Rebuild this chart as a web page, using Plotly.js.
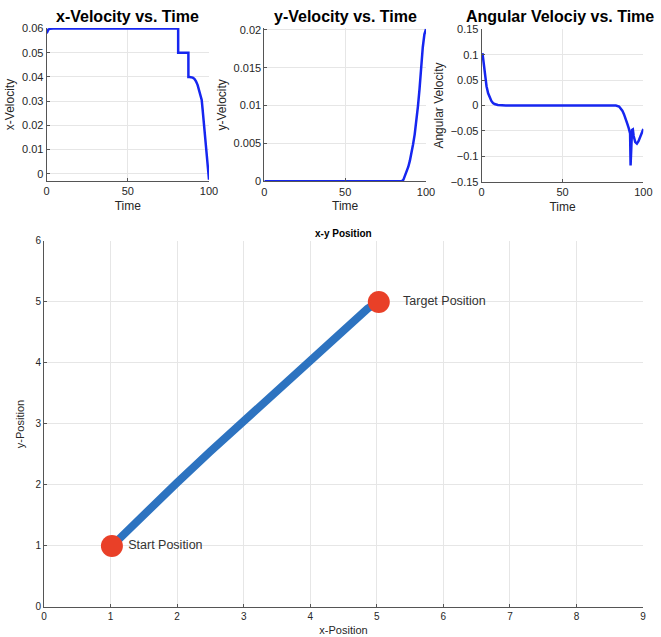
<!DOCTYPE html>
<html><head><meta charset="utf-8">
<script src="https://cdn.plot.ly/plotly-3.0.1.min.js"></script>
<style>html,body{margin:0;padding:0;background:#fff}#c{width:661px;height:637px}</style>
</head><body><div id="c"></div>
<script>
// x-velocity vs time
const tVx = [0, 1, 2, 4, 81, 81.01, 87.3, 87.31, 88, 89, 90, 91, 92, 93, 94, 95, 95.5, 96, 97, 98, 99, 100];
const vx  = [0.058, 0.0595, 0.0599, 0.06, 0.06, 0.05, 0.05, 0.04, 0.04, 0.0399, 0.0397, 0.0392, 0.0382, 0.0366, 0.0345, 0.0322, 0.0305, 0.027, 0.0195, 0.012, 0.0045, -0.0025];
// y-velocity vs time
const tVy = [0, 50, 84, 85, 86, 87, 88, 89, 90, 91, 92, 93, 94, 95, 96, 97, 98, 99, 100];
const vy  = [0, 0, 0, 0.00003, 0.0002, 0.0007, 0.0012, 0.0019, 0.0027, 0.0037, 0.0049, 0.0062, 0.0079, 0.0099, 0.0122, 0.0152, 0.0177, 0.0194, 0.0201];
// angular velocity vs time
const tW = [0.5, 1, 2, 3, 4, 5, 6, 7, 8, 10, 12, 15, 50, 83, 85, 86, 87, 88, 89, 90, 91, 91.8, 92.1, 92.4, 93, 93.5, 94, 95, 96, 97, 98, 99, 100];
const w  = [0.103, 0.09, 0.06, 0.038, 0.024, 0.015, 0.009, 0.005, 0.003, 0.001, 0.0003, 0, 0, 0, -0.002, -0.005, -0.01, -0.017, -0.025, -0.035, -0.045, -0.055, -0.118, -0.1, -0.048, -0.047, -0.06, -0.072, -0.075, -0.07, -0.062, -0.054, -0.046];
// x-y path
const pathX = [1.02, 1.5, 2, 2.5, 3, 3.5, 4, 4.4, 4.55, 4.65, 4.73, 4.8, 4.86, 4.92, 4.97, 5.03];
const pathY = [1.0, 1.53, 2.04, 2.55, 3.05, 3.56, 4.06, 4.46, 4.61, 4.71, 4.78, 4.84, 4.89, 4.93, 4.96, 5.0];
const markX = [1.02, 5.03];
const markY = [1.0, 5.0];
const labelX = [1.265, 5.395];
const labelY = [1.0, 5.0];
const labelText = ['Start Position', 'Target Position'];

const FONT = 'Liberation Sans, Arial, Helvetica, sans-serif';
const BLUE = 'rgb(22,38,240)';
const axBase = {
  showgrid: true, gridcolor: '#e6e6e6', gridwidth: 1,
  zeroline: false, showline: true, linecolor: '#555', linewidth: 1,
  ticks: 'inside', ticklen: 3, tickcolor: '#555',
  tickfont: {family: FONT, size: 11, color: '#262626'},
  mirror: false
};
function ax(o) { return Object.assign({}, axBase, o); }

const traces = [
  {x: tVx, y: vx, type: 'scatter', mode: 'lines', line: {color: BLUE, width: 2.5}, xaxis: 'x', yaxis: 'y'},
  {x: tVy, y: vy, type: 'scatter', mode: 'lines', line: {color: BLUE, width: 2.5}, xaxis: 'x2', yaxis: 'y2'},
  {x: tW, y: w, type: 'scatter', mode: 'lines', line: {color: BLUE, width: 2.5}, xaxis: 'x3', yaxis: 'y3'},
  {x: pathX, y: pathY, type: 'scatter', mode: 'lines', line: {color: 'rgb(45,115,192)', width: 8}, xaxis: 'x4', yaxis: 'y4'},
  {x: markX, y: markY, type: 'scatter', mode: 'markers',
   marker: {color: 'rgb(233,64,40)', size: 22}, cliponaxis: false, xaxis: 'x4', yaxis: 'y4'},
  {x: labelX, y: labelY, type: 'scatter', mode: 'text', text: labelText, textposition: 'middle right',
   textfont: {family: FONT, size: 12.5, color: '#333'}, cliponaxis: false, xaxis: 'x4', yaxis: 'y4'}
];

const titleFont = {family: FONT, size: 12, color: '#262626'};
const layout = {
  width: 661, height: 637, showlegend: false,
  paper_bgcolor: '#fff', plot_bgcolor: '#fff',
  margin: {l: 0, r: 0, t: 0, b: 0},
  xaxis: ax({domain: [0.0706, 0.3162], anchor: 'y', range: [0, 100], tickvals: [0, 50, 100],
    title: {text: 'Time', font: titleFont, standoff: 5}}),
  yaxis: ax({domain: [0.7159, 0.956], anchor: 'x', range: [-0.003, 0.0602],
    tickvals: [0, 0.01, 0.02, 0.03, 0.04, 0.05, 0.06],
    title: {text: 'x-Velocity', font: titleFont, standoff: 4}}),
  xaxis2: ax({domain: [0.3999, 0.6445], anchor: 'y2', range: [0, 100], tickvals: [0, 50, 100],
    title: {text: 'Time', font: titleFont, standoff: 5}}),
  yaxis2: ax({domain: [0.7153, 0.9556], anchor: 'x2', range: [0, 0.0202],
    tickvals: [0, 0.005, 0.01, 0.015, 0.02], ticktext: ['0', '0.005', '0.01', '0.015', '0.02'],
    title: {text: 'y-Velocity', font: titleFont, standoff: 4}}),
  xaxis3: ax({domain: [0.7287, 0.9733], anchor: 'y3', range: [0, 100], tickvals: [0, 50, 100],
    title: {text: 'Time', font: titleFont, standoff: 5}}),
  yaxis3: ax({domain: [0.7147, 0.954], anchor: 'x3', range: [-0.15, 0.15],
    tickvals: [-0.15, -0.1, -0.05, 0, 0.05, 0.1, 0.15],
    title: {text: 'Angular Velocity', font: titleFont, standoff: 4}}),
  xaxis4: ax({domain: [0.0666, 0.9728], anchor: 'y4', range: [0, 9], dtick: 1,
    tickfont: {family: FONT, size: 10, color: '#262626'},
    title: {text: 'x-Position', font: {family: FONT, size: 11, color: '#262626'}, standoff: 5}}),
  yaxis4: ax({domain: [0.0471, 0.6217], anchor: 'x4', range: [0, 6], dtick: 1,
    tickfont: {family: FONT, size: 10, color: '#262626'},
    title: {text: 'y-Position', font: {family: FONT, size: 11, color: '#262626'}, standoff: 8}}),
  annotations: [
    {text: '<b>x-Velocity vs. Time</b>', x: 0.1934, y: 1 - 17/637, xref: 'paper', yref: 'paper', showarrow: false,
     xanchor: 'center', yanchor: 'middle', font: {family: FONT, size: 16, color: '#000'}},
    {text: '<b>y-Velocity vs. Time</b>', x: 0.5222, y: 1 - 17/637, xref: 'paper', yref: 'paper', showarrow: false,
     xanchor: 'center', yanchor: 'middle', font: {family: FONT, size: 16, color: '#000'}},
    {text: '<b>Angular Velociy vs. Time</b>', x: 0.847, y: 1 - 17/637, xref: 'paper', yref: 'paper', showarrow: false,
     xanchor: 'center', yanchor: 'middle', font: {family: FONT, size: 16, color: '#000'}},
    {text: '<b>x-y Position</b>', x: 0.5197, y: 1 - 233/637, xref: 'paper', yref: 'paper', showarrow: false,
     xanchor: 'center', yanchor: 'middle', font: {family: FONT, size: 10, color: '#000'}}
  ]
};
Plotly.newPlot('c', traces, layout, {displayModeBar: false, staticPlot: true});
</script></body></html>
